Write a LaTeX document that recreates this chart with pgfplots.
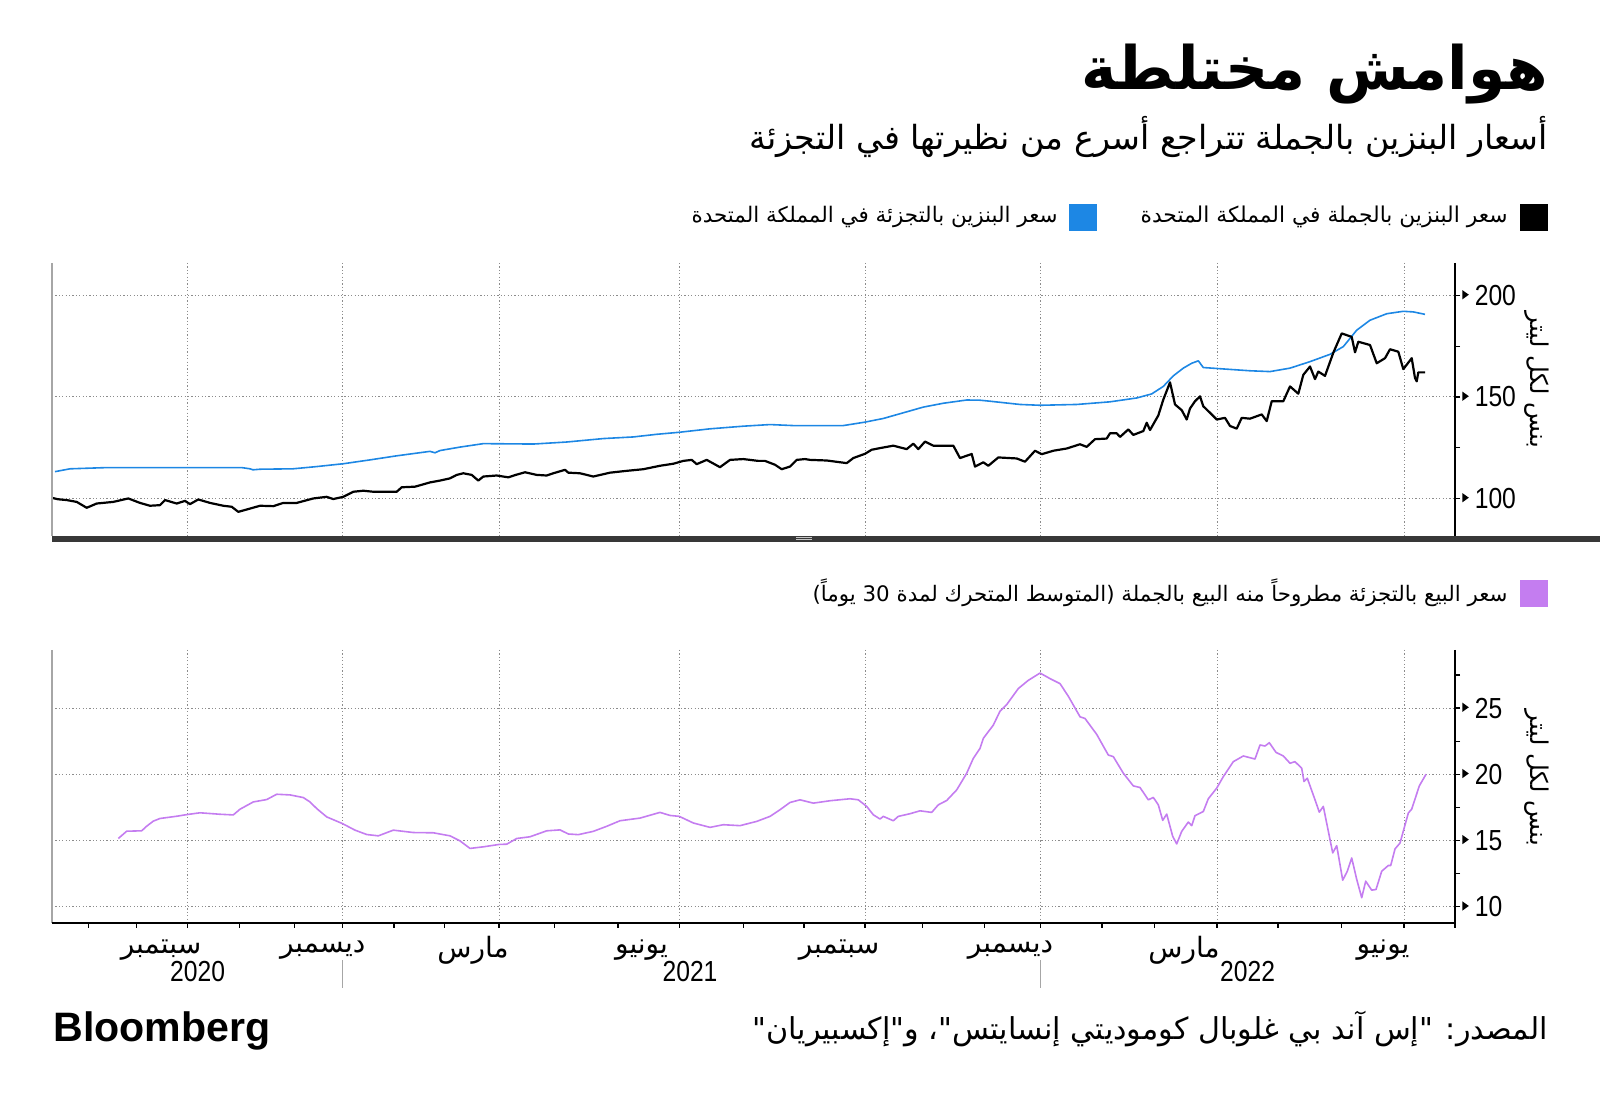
\documentclass[border=0pt]{standalone}
\usepackage{fontspec}
\usepackage{graphicx}
\usepackage{pgfplots}
\pgfplotsset{compat=1.18}
\setmainfont{Liberation Sans}
\newfontfamily\arabicfont[Script=Arabic]{DejaVu Sans}
\newfontfamily\numfont[FakeStretch=0.85]{Liberation Sans}
\TeXXeTstate=1
\newcommand{\ar}[1]{{\arabicfont\beginR #1\endR}}
\newcommand{\tri}{\tikz[baseline=-0.7ex]\fill[black] (0,-2.3pt)--(3.2pt,0)--(0,2.3pt)--cycle;\hspace{3pt}}
\definecolor{retail}{RGB}{29,135,228}
\definecolor{spread}{RGB}{196,125,240}
\definecolor{gridc}{RGB}{140,140,140}

\pgfplotstableread{
x y
55 113.2
70 114.6
106.7 115.2
183 115.2
241.7 115.2
250 114.6
253 114.1
260 114.4
293 114.6
316.7 115.7
343.3 117.1
370 119
396.7 121
430 123.2
435 122.5
440 123.6
460 125.3
483.3 127
510 126.9
533.3 126.8
566.7 127.8
603.3 129.5
633.3 130.3
656.7 131.6
679.3 132.6
710 134.3
743.3 135.6
770 136.4
793.3 135.9
826.7 135.9
843.3 135.9
865 137.6
883.3 139.4
903.3 142.2
923.3 145
943.3 146.9
966.7 148.5
980 148.4
990 147.9
1020 146.3
1040 145.9
1076.7 146.3
1110 147.6
1136.7 149.5
1151.7 151.5
1163.3 155.2
1173.3 160.4
1183.3 164.2
1191.7 166.6
1198.3 167.8
1203.3 164.5
1223.3 163.8
1250 162.9
1270 162.5
1290 164.2
1310 167.4
1330 171
1343.3 174.8
1356.7 182.9
1370 187.8
1386.7 191
1403.3 192.2
1413.3 191.9
1425 190.7
}\retailtable

\pgfplotstableread{
x y
52 100.3
58 99.6
66.7 99.2
76.7 98.3
86.7 95.4
96.7 97.5
113.3 98.3
128.3 100
140 97.8
150 96.4
160 96.7
165 99.2
176.7 97.5
185 98.8
190 97.2
198.3 99.5
210 97.8
223.3 96.4
231.7 95.9
238.3 93.4
250 95
260 96.4
273.3 96.2
283.3 97.8
296.7 97.8
313.3 100
326.7 100.8
333.3 99.7
343.3 100.8
353.3 103.3
363.3 103.8
373.3 103.3
396.7 103.3
401.7 105.5
415 105.8
430 107.9
440 108.8
450 109.9
456.7 111.6
463.3 112.4
471.7 111.6
478.3 108.8
483.3 110.8
496.7 111.3
508.3 110.4
515 111.5
525 112.9
536.7 111.6
546.7 111.3
553.3 112.4
565 114.1
568.3 112.7
580 112.4
586.7 111.6
593.3 110.8
610 112.7
626.7 113.6
643.3 114.4
660 116.1
673.3 117.1
683.3 118.5
691.7 119
696.7 116.9
706.7 119
720 115.4
730 119
743.3 119.4
758.3 118.5
765 118.5
775 116.6
781.7 114.4
790 115.7
796.7 119
805 119.4
810 119
826.7 118.7
846.7 117.4
853.3 119.9
865 122
871.7 124
880 124.8
893.3 126
906.7 124.3
913.3 127
918.3 124.3
925 128
933.3 126
953.3 126
960 119.9
971.7 121.9
975 115.7
983.3 117.8
988.3 116.1
998.3 120.2
1016.7 119.7
1025 118.1
1035 123.5
1041.7 121.8
1053.3 123.5
1066.7 124.6
1080 126.7
1086.7 125.4
1095 129.2
1106.7 129.5
1110 132.1
1116.7 132.1
1120 130.3
1128.3 134
1133.3 131.3
1143.3 133.2
1146.7 137.3
1150 133.7
1158.3 140.9
1163.3 148.7
1170 157.2
1175 146.3
1181.7 143.5
1186.7 138.9
1190 144.3
1195 147.9
1200 150.3
1203.3 145.4
1210 142.2
1216.7 138.9
1225 139.7
1230 135.7
1236.7 134.4
1241.7 139.7
1250 139.3
1261.7 141.4
1266.7 138.1
1271.7 147.9
1283.3 147.9
1290 155.2
1298.3 151.6
1303.3 160.9
1310 165
1315 158.8
1318.3 162.5
1325 160.4
1333.3 171.8
1341.7 181.3
1351.7 179.6
1355 172
1358.3 177.2
1370 175.6
1376.7 166.6
1385 169.1
1390 173.5
1398.3 172.3
1403.3 163.7
1411.7 169.1
1415 159.3
1416.7 157.7
1418.3 162.1
1425 162.1
}\wholesaletable

\pgfplotstableread{
x y
118.3 15.15
126.7 15.7
141.7 15.73
146.7 16.08
153.3 16.46
160 16.66
176.7 16.83
187.3 16.96
200 17.09
220 16.98
233.3 16.93
240 17.36
253.3 17.91
266.7 18.09
276.7 18.49
290 18.44
303.3 18.24
310 17.91
316.7 17.41
326.7 16.78
342.3 16.28
355 15.78
366.7 15.45
378.3 15.35
393.3 15.78
413.3 15.6
433.3 15.58
450 15.35
460 14.97
470 14.4
483.3 14.52
499 14.7
506.7 14.72
516.7 15.15
530 15.28
546.7 15.73
560 15.8
568.3 15.49
578.3 15.44
593.3 15.69
606.7 16.07
620 16.49
640 16.69
660 17.12
670 16.89
679.3 16.82
693.3 16.32
710 15.99
723.3 16.19
740 16.12
756.7 16.44
770 16.82
780 17.32
790 17.87
800 18.07
813.3 17.82
830 18
850 18.15
858.3 18.07
866.7 17.57
873.3 16.94
880 16.62
883.3 16.82
893.3 16.49
898.3 16.82
910 17.02
920 17.24
931.7 17.12
938.3 17.69
946.7 18.02
956.7 18.82
966.7 20.08
973.3 21.2
980 21.95
983.3 22.71
993.3 23.71
1000 24.76
1006.7 25.26
1018.3 26.47
1028.3 27.09
1040 27.64
1050 27.22
1060 26.84
1068.3 25.89
1080 24.34
1085 24.21
1096.7 23.01
1108.3 21.45
1113.3 21.33
1123.3 20.08
1133.3 19.12
1140 19
1148.3 18.07
1153.3 18.25
1158.3 17.69
1162.7 16.52
1166.7 16.99
1172.7 15.31
1176.7 14.74
1181.7 15.69
1188.3 16.39
1191.7 16.12
1195 16.87
1203.3 17.19
1208.3 18.15
1216.7 18.95
1223.3 19.82
1233.3 20.95
1243.3 21.38
1255 21.15
1260 22.21
1265 22.13
1269.3 22.38
1276 21.65
1283.3 21.38
1290 20.83
1295 20.95
1301.7 20.45
1304 19.45
1307.3 19.7
1315 18.07
1319.3 17.14
1323.3 17.57
1332.7 14.06
1336.7 14.61
1342.7 12
1347.3 12.68
1351.7 13.68
1356.7 12.06
1361.7 10.68
1365.7 11.93
1371.7 11.25
1376 11.3
1381.7 12.68
1388.3 13.11
1390.7 13.11
1395 14.36
1400 14.81
1408.3 17.07
1411.7 17.37
1419.3 19.12
1426 20
}\spreadtable

\pgfplotsset{
  panel/.style={
    scale only axis, width=701.5pt, height=136.5pt, anchor=south west,
    xmin=52, xmax=1455,
    axis line style={draw=none},
    xtick=\empty,
    ytick pos=right, yticklabel pos=right,
    tick align=outside, major tick length=2.5pt, minor tick length=2.5pt,
    tick style={black, line width=0.6pt},
    ymajorgrids,
    grid style={gridc, line width=0.5pt, dash pattern=on 0.6pt off 1.1pt},
    yticklabel style={font=\numfont\fontsize{14.5}{15}\selectfont, anchor=west, inner sep=0pt, xshift=1pt},
  }
}
\tikzset{vgrid/.style={gridc, line width=0.5pt, dash pattern=on 0.6pt off 1.1pt}}

\begin{document}
\begin{tikzpicture}
\useasboundingbox (0,0) rectangle (800pt,-555.5pt);

% ---------- titles ----------
\node[anchor=east, inner sep=0pt] at (774pt,-37pt) {\resizebox{233pt}{!}{\ar{\bfseries هوامش مختلطة}}};
\node[anchor=east, inner sep=0pt] at (774pt,-68.5pt) {\resizebox{399pt}{!}{\ar{أسعار البنزين بالجملة تتراجع أسرع من نظيرتها في التجزئة}}};

% ---------- legend 1 ----------
\fill[black] (760pt,-102pt) rectangle (774pt,-115.5pt);
\node[anchor=east, inner sep=0pt] at (754pt,-108.5pt) {\resizebox{183.5pt}{!}{\ar{سعر البنزين بالجملة في المملكة المتحدة}}};
\fill[retail] (534.5pt,-102pt) rectangle (548.5pt,-115.5pt);
\node[anchor=east, inner sep=0pt] at (529pt,-108.5pt) {\resizebox{183pt}{!}{\ar{سعر البنزين بالتجزئة في المملكة المتحدة}}};

% ---------- vertical grid lines (quarter starts) ----------
\foreach \gx in {187.8,342.3,499,679.3,865,1040.4,1217,1404} {
  \draw[vgrid] (0.5*\gx pt,-131.5pt) -- (0.5*\gx pt,-268pt);
  \draw[vgrid] (0.5*\gx pt,-325pt) -- (0.5*\gx pt,-461.5pt);
}

% ---------- top panel ----------
\begin{axis}[panel, at={(26pt,-268pt)},
  ymin=81.5, ymax=216,
  ytick={100,150,200}, yticklabels={{\tri100},{\tri150},{\tri200}},
  minor ytick={125,175},
]
\addplot[retail, line width=0.8pt, line join=round] table {\retailtable};
\addplot[black, line width=1.1pt, line join=round] table {\wholesaletable};
\end{axis}

% ---------- legend 2 ----------
\fill[spread] (760pt,-290pt) rectangle (774pt,-303.5pt);
\node[anchor=east, inner sep=0pt] at (754pt,-296.5pt) {\resizebox{347.5pt}{!}{\ar{سعر البيع بالتجزئة مطروحاً منه البيع بالجملة (المتوسط المتحرك لمدة \beginL 30\endL{} يوماً)}}};

% ---------- bottom panel ----------
\begin{axis}[panel, at={(26pt,-461.5pt)},
  ymin=8.77, ymax=29.38,
  ytick={10,15,20,25}, yticklabels={{\tri10},{\tri15},{\tri20},{\tri25}},
  minor ytick={12.5,17.5,22.5,27.5},
]
\addplot[spread, line width=0.8pt, line join=round] table {\spreadtable};
\end{axis}

% ---------- axis lines and x ticks ----------
\draw[gray!70, line width=0.6pt] (26pt,-131.5pt) -- (26pt,-268pt);
\draw[gray!70, line width=0.6pt] (26pt,-325pt) -- (26pt,-461.5pt);
\draw[black, line width=0.7pt] (727.5pt,-131.5pt) -- (727.5pt,-268pt);
\draw[black, line width=0.7pt] (727.5pt,-325pt) -- (727.5pt,-464pt);
\draw[black, line width=0.7pt] (26pt,-461.5pt) -- (727.5pt,-461.5pt);
\foreach \tx in {88.3,136.2,187.8,239.8,294.4,342.3,393.9,444.4,499,554.6,617.9,679.3,743.4,804,865,922.4,984.2,1040.4,1102,1154.6,1217,1278,1341.8,1404} {
  \draw[black, line width=0.6pt] (0.5*\tx pt,-461.5pt) -- (0.5*\tx pt,-464pt);
}
\fill[black!78] (26pt,-268pt) rectangle (800pt,-270.9pt);
\draw[gray!45, line width=0.3pt] (398pt,-268.9pt) -- (406pt,-268.9pt);
\draw[gray!45, line width=0.3pt] (398pt,-269.9pt) -- (406pt,-269.9pt);

% ---------- y axis labels ----------
\node[rotate=-90, inner sep=0pt] at (768.5pt,-190pt) {\resizebox{68pt}{!}{\ar{بنس لكل ليتر}}};
\node[rotate=-90, inner sep=0pt] at (768.5pt,-389pt) {\resizebox{68pt}{!}{\ar{بنس لكل ليتر}}};

% ---------- month and year labels ----------
\begin{scope}[every node/.style={inner sep=0pt, font=\arabicfont\fontsize{14}{16}\selectfont}]
\node at (80.5pt,-475pt) {\ar{سبتمبر}};
\node at (161.35pt,-475pt) {\ar{ديسمبر}};
\node at (236.5pt,-475pt) {\ar{مارس}};
\node at (320.75pt,-475pt) {\ar{يونيو}};
\node at (419.5pt,-475pt) {\ar{سبتمبر}};
\node at (505.25pt,-475pt) {\ar{ديسمبر}};
\node at (592pt,-475pt) {\ar{مارس}};
\node at (691.5pt,-475pt) {\ar{يونيو}};
\end{scope}
\begin{scope}[every node/.style={inner sep=0pt, font=\numfont\fontsize{14.5}{16}\selectfont}]
\node at (98.8pt,-486pt) {2020};
\node at (345pt,-486pt) {2021};
\node at (623.8pt,-486pt) {2022};
\end{scope}
\draw[gray!70, line width=0.5pt] (171.15pt,-480pt) -- (171.15pt,-494pt);
\draw[gray!70, line width=0.5pt] (520.2pt,-480pt) -- (520.2pt,-494pt);

% ---------- footer ----------
\node[anchor=west, inner sep=0pt] at (26.5pt,-515.5pt) {\resizebox{108.5pt}{!}{\bfseries Bloomberg}};
\node[anchor=east, inner sep=0pt] at (774pt,-514.5pt) {\resizebox{397.5pt}{!}{\ar{المصدر: "إس آند بي غلوبال كوموديتي إنسايتس"، و"إكسبيريان"}}};
\end{tikzpicture}
\end{document}
